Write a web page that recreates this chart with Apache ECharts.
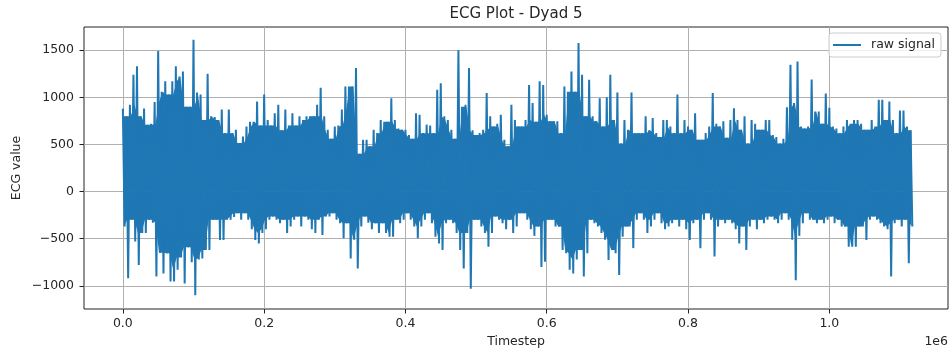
<!DOCTYPE html>
<html><head><meta charset="utf-8">
<script src="https://cdn.jsdelivr.net/npm/echarts@6/dist/echarts.min.js"></script>
<style>html,body{margin:0;padding:0;background:#fff}#c{width:950px;height:351px}</style>
</head><body><div id="c"></div>
<script>
// Envelope of the raw ECG signal, one bin per 5000 timesteps
const binStep = 5000;
const binHigh = [
 880, 800, 920, 1240, 1330, 800, 880, 710, 720, 950,
 1490, 1060, 1170, 1030, 1170, 1330, 1220, 1275, 900, 900,
 1610, 1050, 1030, 760, 1250, 800, 790, 760, 870, 620,
 870, 620, 655, 515, 585, 690, 740, 740, 955, 700,
 1030, 760, 700, 830, 920, 650, 870, 700, 830, 700,
 800, 760, 800, 800, 800, 920, 1100, 800, 655, 560,
 690, 700, 870, 1115, 1115, 1115, 1310, 400, 550, 550,
 480, 655, 620, 760, 740, 740, 990, 760, 670, 655,
 655, 600, 560, 830, 815, 620, 710, 700, 620, 1080,
 1150, 800, 760, 655, 560, 1500, 900, 920, 1310, 650,
 600, 620, 655, 1045, 800, 690, 720, 815, 550, 480,
 920, 760, 690, 690, 760, 1130, 940, 740, 1170, 1130,
 815, 745, 745, 745, 620, 1115, 1060, 1275, 1060, 1575,
 1240, 800, 1185, 800, 745, 990, 690, 1000, 1240, 760,
 1050, 510, 760, 655, 1050, 620, 620, 620, 800, 650,
 780, 620, 580, 760, 760, 690, 620, 1030, 620, 760,
 690, 655, 830, 550, 550, 620, 690, 1045, 720, 690,
 745, 570, 760, 885, 760, 655, 800, 510, 760, 720,
 655, 655, 760, 760, 600, 580, 510, 560, 895, 1345,
 940, 1380, 690, 670, 690, 1190, 850, 850, 720, 1040,
 890, 690, 670, 620, 690, 760, 720, 760, 760, 720,
 655, 655, 760, 690, 975, 975, 760, 955, 760, 620,
 860, 860, 690, 650
];
const binLow = [
 -370, -920, -300, -530, -780, -440, -440, -300, -330, -900,
 -650, -870, -655, -955, -955, -830, -700, -975, -590, -750,
 -1100, -720, -710, -620, -620, -300, -300, -515, -515, -300,
 -300, -270, -230, -300, -230, -300, -400, -515, -550, -440,
 -400, -300, -265, -300, -335, -300, -440, -370, -300, -265,
 -370, -265, -300, -400, -440, -300, -460, -265, -265, -230,
 -300, -335, -495, -335, -710, -510, -815, -370, -265, -330,
 -400, -335, -440, -335, -440, -480, -480, -300, -335, -300,
 -230, -300, -370, -495, -370, -300, -230, -335, -480, -550,
 -620, -335, -300, -335, -440, -620, -815, -440, -1030, -300,
 -300, -370, -440, -585, -440, -265, -300, -335, -400, -300,
 -440, -370, -230, -230, -300, -400, -470, -370, -800, -745,
 -300, -300, -370, -370, -620, -655, -830, -870, -720, -620,
 -900, -655, -300, -335, -370, -440, -510, -725, -620, -655,
 -885, -480, -370, -370, -600, -300, -230, -300, -440, -370,
 -300, -230, -335, -400, -370, -335, -300, -370, -300, -400,
 -515, -335, -300, -600, -300, -230, -300, -690, -370, -300,
 -335, -300, -335, -400, -550, -370, -620, -370, -300, -400,
 -300, -335, -300, -265, -300, -335, -300, -230, -300, -510,
 -940, -470, -335, -230, -300, -300, -335, -300, -335, -300,
 -265, -335, -300, -370, -370, -585, -585, -585, -370, -370,
 -515, -300, -265, -300, -335, -370, -400, -900, -335, -300,
 -370, -300, -760, -370
];
const xTicks = [0, 200000, 400000, 600000, 800000, 1000000];
const yTicks = [-1000, -500, 0, 500, 1000, 1500];
const seriesName = 'raw signal';
const titleText = 'ECG Plot - Dyad 5';
const xName = 'Timestep';
const yName = 'ECG value';
const xScaleText = '1e6';

// Each bin is drawn as a swing between its high and low values
const lineData = [];
for (let k = 0; k < binHigh.length; k++) {
  const t = k * binStep;
  lineData.push([t, binHigh[k]]);
  lineData.push([t + binStep / 2, binLow[k]]);
}
// Solid core of the dense trace: the part of each bin shared with its neighbours
const n = binHigh.length;
const coreTop = [], coreBottom = [];
for (let k = 0; k < n; k++) {
  const t = k * binStep + binStep / 4;
  const a = Math.max(0, k - 1), b = Math.min(n - 1, k + 1);
  coreTop.push([t, Math.min(binHigh[a], binHigh[k], binHigh[b])]);
  coreBottom.push([t, Math.max(binLow[a], binLow[k], binLow[b])]);
}

const FONT = 'DejaVu Sans';
const TXT = '#262626';
const BLUE = '#1f77b4';
const chart = echarts.init(document.getElementById('c'), null, {renderer: 'canvas'});
chart.setOption({
  animation: false,
  backgroundColor: '#fff',
  grid: {left: 84, right: 2, top: 27, bottom: 42, show: true, borderColor: '#222', borderWidth: 1, backgroundColor: 'transparent'},
  xAxis: {
    type: 'value', min: -55000, max: 1168000,
    axisLine: {show: false, onZero: false},
    axisTick: {show: true, customValues: xTicks, length: 4.5, lineStyle: {color: '#222', width: 1}},
    axisLabel: {customValues: xTicks, formatter: v => (v / 1e6).toFixed(1), fontFamily: FONT, fontSize: 12.5, color: TXT, margin: 8},
    splitLine: {show: true, customValues: xTicks, lineStyle: {color: '#b0b0b0', width: 1}}
  },
  yAxis: {
    type: 'value', min: -1246, max: 1746,
    axisLine: {show: false, onZero: false},
    axisTick: {show: true, customValues: yTicks, length: 4.5, lineStyle: {color: '#222', width: 1}},
    axisLabel: {customValues: yTicks, formatter: v => (v < 0 ? '\u2212' + Math.abs(v) : String(v)), fontFamily: FONT, fontSize: 12.5, color: TXT, margin: 10},
    splitLine: {show: true, customValues: yTicks, lineStyle: {color: '#b0b0b0', width: 1}}
  },
  legend: {
    left: 829, top: 33, padding: [5, 6, 5, 4], icon: 'rect', itemWidth: 28, itemHeight: 2,
    backgroundColor: 'rgba(255,255,255,0.8)', borderColor: '#cccccc', borderWidth: 1, borderRadius: 3,
    textStyle: {fontFamily: FONT, fontSize: 12.5, color: TXT, padding: [0, 0, 0, 5], lineHeight: 14},
    data: [seriesName]
  },
  series: [
    {name: 'core-top', type: 'line', data: coreTop, showSymbol: false, symbol: 'none', color: BLUE,
     lineStyle: {width: 0}, areaStyle: {color: BLUE, opacity: 1}, sampling: 'none', silent: true, z: 2},
    {name: 'core-bottom', type: 'line', data: coreBottom, showSymbol: false, symbol: 'none', color: BLUE,
     lineStyle: {width: 0}, areaStyle: {color: BLUE, opacity: 1}, sampling: 'none', silent: true, z: 2},
    {name: seriesName, type: 'line', data: lineData, showSymbol: false, symbol: 'none',
     color: BLUE, lineStyle: {color: BLUE, width: 2, join: 'bevel'}, sampling: 'none', silent: true, z: 3}
  ],
  graphic: [
    {type: 'text', x: 516, y: 14.5, style: {text: titleText, font: '15px "DejaVu Sans"', fill: TXT, textAlign: 'center', textVerticalAlign: 'middle'}},
    {type: 'text', x: 516, y: 342, style: {text: xName, font: '12.5px "DejaVu Sans"', fill: TXT, textAlign: 'center', textVerticalAlign: 'middle'}},
    {type: 'text', x: 948, y: 342, style: {text: xScaleText, font: '12.5px "DejaVu Sans"', fill: TXT, textAlign: 'right', textVerticalAlign: 'middle'}},
    {type: 'text', x: 17, y: 168, rotation: Math.PI / 2, style: {text: yName, font: '12.5px "DejaVu Sans"', fill: TXT, textAlign: 'center', textVerticalAlign: 'middle'}}
  ]
});
</script></body></html>
